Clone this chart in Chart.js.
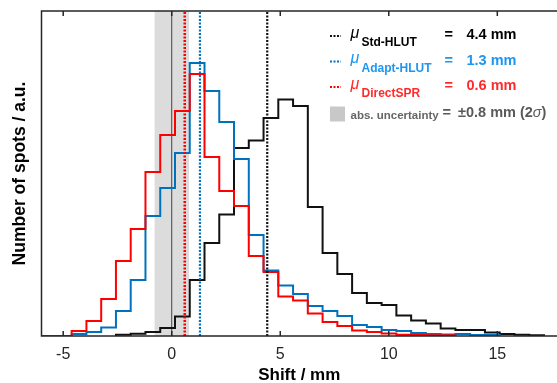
<!DOCTYPE html>
<html>
<head>
<meta charset="utf-8">
<script src="https://cdn.jsdelivr.net/npm/chart.js@4.4.1/dist/chart.umd.min.js"></script>
<style>
  html, body { margin: 0; padding: 0; background: #fff; }
  #wrap { width: 557px; height: 383px; }
</style>
</head>
<body>
<div id="wrap"><canvas id="hist" width="557" height="383"></canvas></div>
<script>
// histogram bin edges (mm)
var binEdges = [-5.97, -5.29, -4.61, -3.93, -3.25, -2.57, -1.89, -1.21, -0.53, 0.15,
  0.83, 1.51, 2.19, 2.87, 3.55, 4.23, 4.91, 5.59, 6.27, 6.95, 7.63, 8.31, 8.99, 9.67,
  10.35, 11.03, 11.71, 12.39, 13.07, 13.75, 14.43, 15.11, 15.79, 16.47, 17.15];

// counts per bin (a.u.), null = no bar drawn
var stdHlut = [null, null, null, null, null, 1.2, 2.2, 4, 8, 19.5, 56, 93, 121.5, 188, 195.5,
  218, 236.5, 230, 129, 83, 62, 43, 33, 31, 20.5, 15.5, 12.5, 7.5, 6, 6, 3.5, 2, 1.2, 0.8];
var adaptHlut = [null, null, 2, 4, 8.5, 25, 56, 120, 148, 183, 273, 245, 214, 177, 101,
  65.5, 50.5, 42, 30, 25, 20, 11, 9, 6, 5, 3, 2, 1.5, 2, 1, 1, null, null, null];
var directSpr = [0, 0, 5, 15, 37, 75, 107, 164, 201, 225, 262, 179, 145, 130, 80,
  64, 39.5, 35.5, 22.5, 14, 10, 5.5, 4, 2.5, 1.2, 1, 0.8, 0.8, null, null, null, null, null, null];

var seriesNames = ['Std-HLUT', 'Adapt-HLUT', 'DirectSPR'];
var meanShift = [4.4, 1.3, 0.6];
var absUncertainty = 0.8;
var xTicks = [-5, 0, 5, 10, 15];

var lineColors = ['#111111', '#0072bd', '#ff0000'];
var textColors = ['#000000', '#1e96f0', '#ff2a2a'];
var FONT = '"Liberation Sans", Arial, sans-serif';
var YTOP = 325;

Chart.defaults.font.family = FONT;

function stairs(counts) {
  var pts = [];
  var last = -1;
  for (var i = 0; i < counts.length; i++) {
    if (counts[i] === null) continue;
    if (pts.length === 0) pts.push({x: binEdges[i], y: 0});
    pts.push({x: binEdges[i], y: counts[i]});
    last = i;
  }
  pts.push({x: binEdges[last + 1], y: 0});
  return pts;
}

function vline(v) {
  return [{x: v, y: 0}, {x: v, y: YTOP}];
}

function drawLegend(chart) {
  var ctx = chart.ctx;
  ctx.save();
  ctx.textBaseline = 'alphabetic';
  ctx.textAlign = 'left';
  for (var i = 0; i < 3; i++) {
    var d = 36 + i * 25.5;
    ctx.strokeStyle = lineColors[i];
    ctx.lineWidth = 2;
    ctx.setLineDash([2, 1.5]);
    ctx.beginPath();
    ctx.moveTo(330, d);
    ctx.lineTo(341, d);
    ctx.stroke();
    ctx.setLineDash([]);

    ctx.fillStyle = textColors[i];
    ctx.font = 'italic 16px ' + FONT;
    ctx.fillText('\u03bc', 350.5, d + 1.5);
    ctx.font = 'bold 12px ' + FONT;
    ctx.fillText(seriesNames[i], 361.5, d + 10);
    ctx.font = 'bold 14.5px ' + FONT;
    ctx.fillText('=', 444.5, d + 3);
    ctx.fillText(meanShift[i].toFixed(1) + ' mm', 466.5, d + 3);
  }
  // uncertainty row
  ctx.fillStyle = '#c8c8c8';
  ctx.fillRect(330, 106.5, 15, 15);
  ctx.fillStyle = '#666666';
  ctx.font = 'bold 11.5px ' + FONT;
  ctx.fillText('abs. uncertainty', 350.5, 118.5);
  ctx.fillStyle = '#5a5a5a';
  ctx.font = 'bold 14.5px ' + FONT;
  ctx.fillText('=', 442.5, 117);
  var s = '\u00b1' + absUncertainty.toFixed(1) + ' mm (2';
  var x = 458;
  ctx.fillText(s, x, 117);
  x += ctx.measureText(s).width;
  ctx.font = 'italic 14.5px ' + FONT;
  ctx.fillText('\u03c3', x, 117);
  x += ctx.measureText('\u03c3').width;
  ctx.font = 'bold 14.5px ' + FONT;
  ctx.fillText(')', x, 117);
  ctx.restore();
}

var frame = {
  id: 'frame',
  afterDraw: function (chart) {
    var ctx = chart.ctx, a = chart.chartArea, xs = chart.scales.x;
    ctx.save();
    ctx.strokeStyle = '#262626';
    ctx.lineWidth = 1.5;
    ctx.beginPath();
    ctx.moveTo(a.right, a.top);
    ctx.lineTo(a.left, a.top);
    ctx.lineTo(a.left, a.bottom);
    ctx.lineTo(a.right, a.bottom);
    xTicks.forEach(function (t) {
      var px = xs.getPixelForValue(t);
      ctx.moveTo(px, a.bottom);
      ctx.lineTo(px, a.bottom - 5);
      ctx.moveTo(px, a.top);
      ctx.lineTo(px, a.top + 5);
    });
    ctx.stroke();
    ctx.restore();
    drawLegend(chart);
  }
};

new Chart(document.getElementById('hist'), {
  type: 'line',
  data: {
    datasets: [
      {data: vline(meanShift[0]), borderColor: lineColors[0], borderWidth: 2.2, borderDash: [2, 1.5], order: 1},
      {data: vline(meanShift[1]), borderColor: lineColors[1], borderWidth: 2.2, borderDash: [2, 1.5], order: 2},
      {data: vline(meanShift[2]), borderColor: lineColors[2], borderWidth: 2.6, borderDash: [2, 1.5], order: 3},
      {data: stairs(directSpr), borderColor: lineColors[2], borderWidth: 2, stepped: 'before', order: 4},
      {data: stairs(adaptHlut), borderColor: lineColors[1], borderWidth: 2, stepped: 'before', order: 5},
      {data: stairs(stdHlut), borderColor: lineColors[0], borderWidth: 2, stepped: 'before', order: 6},
      {data: vline(0), borderColor: '#444444', borderWidth: 1, order: 8},
      {data: [{x: -absUncertainty, y: YTOP}, {x: absUncertainty, y: YTOP}], borderColor: 'rgba(0,0,0,0)',
        backgroundColor: '#dcdcdc', fill: 'origin', order: 9}
    ]
  },
  options: {
    responsive: false,
    animation: false,
    devicePixelRatio: 1,
    layout: {padding: {top: 11, right: 0, left: 0, bottom: 0}},
    plugins: {legend: {display: false}, tooltip: {enabled: false}},
    elements: {point: {radius: 0}, line: {tension: 0}},
    scales: {
      x: {
        type: 'linear', min: -6, max: 17.75,
        grid: {display: false}, border: {display: false},
        afterBuildTicks: function (s) { s.ticks = xTicks.map(function (v) { return {value: v}; }); },
        ticks: {font: {size: 16}, color: '#262626', padding: 1, maxRotation: 0, autoSkip: false},
        title: {display: true, text: 'Shift / mm', color: '#000', font: {size: 17, weight: 'bold'},
          padding: {top: 0, bottom: -2.5}},
        afterFit: function (s) { s.height = 47; }
      },
      y: {
        min: 0, max: YTOP,
        grid: {display: false}, border: {display: false},
        ticks: {display: false},
        title: {display: true, text: 'Number of spots / a.u.', color: '#000', font: {size: 17.5, weight: 'bold'},
          padding: {top: 9.5, bottom: 0}},
        afterFit: function (s) { s.width = 41.5; }
      }
    }
  },
  plugins: [frame]
});
</script>
</body>
</html>
